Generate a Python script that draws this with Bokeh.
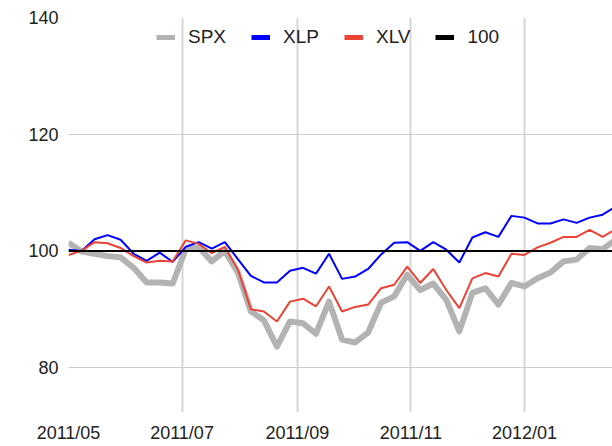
import pandas as pd
from bokeh.plotting import figure
from bokeh.models import (ColumnDataSource, FixedTicker, DatetimeTickFormatter,
                          Range1d, Legend, LegendItem)
from bokeh.embed import file_html
from bokeh.resources import INLINE

# ---- data (weekly) ----
start_date = "2011-05-01"
spx = [101.4, 99.9, 99.5, 99.1, 98.9, 97.1, 94.6, 94.6, 94.4, 100.3,
       100.6, 98.2, 100.0, 96.3, 89.6, 88.1, 83.6, 87.9, 87.6, 85.8,
       91.3, 84.8, 84.3, 86.0, 91.1, 92.2, 95.9, 93.3, 94.4, 91.6,
       86.2, 92.8, 93.6, 90.8, 94.5, 93.9, 95.3, 96.3, 98.2, 98.5,
       100.5, 100.3, 101.9]
xlp = [100.2, 100.0, 102.0, 102.7, 101.9, 99.5, 98.3, 99.7, 98.1, 100.7,
       101.5, 100.4, 101.5, 98.6, 95.7, 94.6, 94.6, 96.6, 97.1, 96.1,
       99.5, 95.2, 95.6, 96.9, 99.4, 101.4, 101.5, 100.0, 101.5, 100.2,
       98.0, 102.3, 103.2, 102.4, 106.0, 105.7, 104.7, 104.7, 105.4, 104.8,
       105.7, 106.2, 107.6]
xlv = [99.3, 100.0, 101.5, 101.3, 100.5, 99.1, 98.0, 98.3, 98.2, 101.8,
       101.2, 99.6, 100.7, 96.8, 90.0, 89.6, 87.9, 91.3, 91.8, 90.5,
       93.9, 89.6, 90.4, 90.8, 93.6, 94.2, 97.3, 94.5, 96.9, 93.3,
       90.2, 95.3, 96.2, 95.6, 99.5, 99.3, 100.6, 101.4, 102.4, 102.4,
       103.6, 102.4, 103.7]
hundred = [100.0] * len(spx)

series_names = ["SPX", "XLP", "XLV", "100"]
series_colors = ["#b3b3b3", "#0000ff", "#ea4335", "#000000"]
tick_dates = ["2011-05-01", "2011-07-01", "2011-09-01", "2011-11-01", "2012-01-01"]
tick_labels = ["2011/05", "2011/07", "2011/09", "2011/11", "2012/01"]
y_ticks = [80, 100, 120, 140]

dates = pd.date_range(start_date, periods=len(spx), freq="7D")
src = ColumnDataSource(dict(date=dates, spx=spx, xlp=xlp, xlv=xlv, hundred=hundred))

x0 = pd.Timestamp(start_date)
x1 = x0 + pd.Timedelta(days=292.3)

FONT = "Liberation Sans"

p = figure(width=612, height=445, x_axis_type="datetime",
           output_backend="svg", toolbar_location=None,
           x_range=Range1d(x0, x1), y_range=Range1d(72.3, 140),
           min_border_left=68, min_border_right=0,
           min_border_top=17, min_border_bottom=32)
p.outline_line_color = None
p.background_fill_color = "white"
p.border_fill_color = "white"

# grid
p.xgrid.grid_line_color = "#d6d6d6"
p.xgrid.grid_line_width = 2
p.ygrid.grid_line_color = "#cccccc"
p.ygrid.grid_line_width = 1

# axes
tick_ms = [pd.Timestamp(d).value / 1e6 for d in tick_dates]
p.xaxis.ticker = FixedTicker(ticks=tick_ms)
p.xaxis.major_label_overrides = {t: lab for t, lab in zip(tick_ms, tick_labels)}
fmt = "%Y/%m"
p.xaxis.formatter = DatetimeTickFormatter(
    years=fmt, months=fmt, days=fmt, hours=fmt, hourmin=fmt,
    minutes=fmt, minsec=fmt, seconds=fmt, milliseconds=fmt, microseconds=fmt)
p.yaxis.ticker = FixedTicker(ticks=y_ticks)
for ax in (p.xaxis, p.yaxis):
    ax.axis_line_color = None
    ax.major_tick_line_color = None
    ax.minor_tick_line_color = None
    ax.major_tick_out = 0
    ax.major_tick_in = 0
    ax.major_label_text_font = FONT
    ax.major_label_text_font_size = "18px"
    ax.major_label_text_color = "#222222"
    ax.major_label_standoff = 10

# lines
r_spx = p.line("date", "spx", source=src, line_color=series_colors[0], line_width=6,
               line_join="round")
r_xlp = p.line("date", "xlp", source=src, line_color=series_colors[1], line_width=2)
r_xlv = p.line("date", "xlv", source=src, line_color=series_colors[2], line_width=2)
r_100 = p.line("date", "hundred", source=src, line_color=series_colors[3], line_width=2)

# legend proxies (uniform thick swatches, nothing drawn in the plot)
items = []
for name, c in zip(series_names, series_colors):
    proxy_src = ColumnDataSource(dict(x=[x0], y=[float("nan")]))
    proxy = p.line("x", "y", source=proxy_src, line_color=c, line_width=5)
    items.append(LegendItem(label=name, renderers=[proxy]))

legend = Legend(items=items, orientation="horizontal", location=(88, 364),
                padding=0, margin=0, spacing=25, glyph_width=19, glyph_height=18,
                label_height=18, label_standoff=13,
                border_line_color=None, background_fill_alpha=0,
                label_text_font=FONT, label_text_font_size="19px",
                label_text_color="#222222")
p.add_layout(legend)

open("out.html", "w").write(file_html(p, INLINE))
